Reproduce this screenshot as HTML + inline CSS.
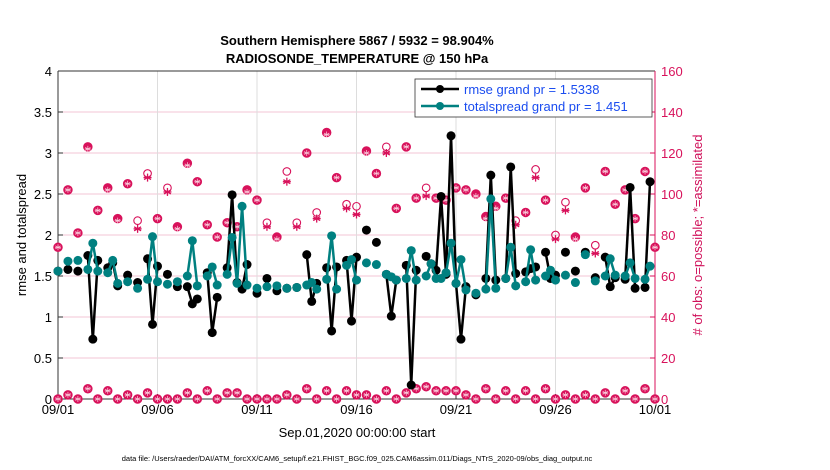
<!DOCTYPE html>
<html><head><meta charset="utf-8">
<style>
html,body{margin:0;padding:0;background:#fff;}
svg{display:block;font-family:"Liberation Sans",sans-serif;}
</style></head>
<body>
<svg id="chart" width="830" height="470" viewBox="0 0 830 470" xmlns="http://www.w3.org/2000/svg">
  <text x="357" y="45" text-anchor="middle" font-size="13" font-weight="bold">Southern Hemisphere 5867 / 5932 = 98.904%</text>
  <text x="357" y="63" text-anchor="middle" font-size="13" font-weight="bold">RADIOSONDE_TEMPERATURE @ 150 hPa</text>
  <g id="grid"></g>
  <g id="axes"></g>
  <g id="obs"></g>
  <g id="series"></g>
  <text x="357" y="437" text-anchor="middle" font-size="13">Sep.01,2020 00:00:00 start</text>
  <text transform="translate(26,235) rotate(-90)" text-anchor="middle" font-size="13">rmse and totalspread</text>
  <text transform="translate(702,235) rotate(-90)" text-anchor="middle" font-size="13" fill="#d0105a">#  of obs: o=possible; *=assimilated</text>
  <text x="357" y="461" text-anchor="middle" font-size="7.5">data file: /Users/raeder/DAI/ATM_forcXX/CAM6_setup/f.e21.FHIST_BGC.f09_025.CAM6assim.011/Diags_NTrS_2020-09/obs_diag_output.nc</text>
  <g>
    <rect x="415" y="79" width="237" height="38" fill="#fff" stroke="#333" stroke-width="0.8"/>
    <line x1="421" y1="89" x2="459" y2="89" stroke="#000" stroke-width="2.5"/>
    <circle cx="440" cy="89" r="4" fill="#000"/>
    <text x="464" y="94" font-size="13" fill="#1a4cf0">rmse grand pr = 1.5338</text>
    <line x1="421" y1="106" x2="459" y2="106" stroke="#008080" stroke-width="2.5"/>
    <circle cx="440" cy="106" r="4" fill="#008080"/>
    <text x="464" y="111" font-size="13" fill="#1a4cf0">totalspread grand pr = 1.451</text>
  </g>
</svg>
<script>
// data: 6-hourly index k (0..120) for rmse/spread
const rmseK = [0,2,4,6,7,8,10,11,12,14,16,18,19,20,22,24,26,27,28,30,31,32,34,35,36,37,38,40,42,44,46,48,50,51,52,54,55,56,58,59,60,62,64,66,67,68,70,71,72,74,75,76,77,78,79,80,81,82,84,86,87,88,90,91,92,94,95,96,98,99,100,102,104,106,108,110,111,112,114,115,116,118,119];
const rmseV = [1.56,1.58,1.56,1.75,0.73,1.69,1.60,1.66,1.38,1.51,1.42,1.71,0.91,1.62,1.52,1.37,1.37,1.16,1.22,1.54,0.81,1.24,1.60,2.49,1.42,1.34,1.64,1.29,1.47,1.32,1.35,1.36,1.76,1.19,1.41,1.60,0.83,1.61,1.69,0.95,1.73,2.06,1.91,1.52,1.01,1.45,1.63,0.17,1.57,1.74,1.65,1.57,2.47,1.52,3.21,1.41,0.73,1.37,1.27,1.47,2.73,1.45,1.47,2.83,1.53,1.55,1.59,1.61,1.79,1.47,1.51,1.79,1.56,1.79,1.48,1.73,1.37,1.48,1.46,2.58,1.35,1.36,2.65];
const spreadV = [1.56,1.68,1.69,1.58,1.90,1.56,1.54,1.69,1.41,1.43,1.35,1.46,1.98,1.43,1.40,1.43,1.50,1.93,1.38,1.50,1.61,1.39,1.52,1.97,1.41,2.35,1.39,1.35,1.37,1.38,1.35,1.36,1.39,1.42,1.34,1.46,1.99,1.34,1.63,1.70,1.45,1.66,1.64,1.52,1.49,1.45,1.47,1.81,1.45,1.50,1.65,1.47,1.47,1.54,1.90,1.41,1.70,1.33,1.29,1.34,2.44,1.35,1.47,1.85,1.38,1.43,1.82,1.45,1.50,1.57,1.45,1.51,1.42,1.76,1.44,1.50,1.71,1.51,1.50,1.66,1.47,1.46,1.62];
// 12-hourly obs counts (61 points)
const obsPossible = [74,102,81,123,92,103,88,105,87,110,88,103,84,115,106,85,79,86,84,102,97,86,79,111,86,120,91,130,108,95,94,121,110,123,93,123,98,103,98,97,103,102,100,89,94,98,87,91,112,97,80,96,79,103,75,111,95,102,88,111,74];
const obsAssim   = [74,102,81,122,92,102,87,105,83,108,88,101,83,114,106,85,79,86,84,101,97,84,78,106,84,120,88,129,108,93,90,120,110,120,93,123,98,99,98,97,103,102,99,88,93,98,85,91,108,97,78,92,78,103,71,111,95,102,88,111,74];
const obsLowPoss = [0,2,0,5,0,4,0,2,0,3,0,0,0,3,0,4,0,3,3,0,0,0,0,2,0,5,0,4,0,4,2,2,0,4,0,3,5,6,4,4,4,2,0,5,0,4,0,4,0,5,0,2,0,2,0,3,0,4,0,5,0];
const leftTicks = [0,0.5,1,1.5,2,2.5,3,3.5,4];
const leftTickLabels = ["0","0.5","1","1.5","2","2.5","3","3.5","4"];
const rightTicks = [0,20,40,60,80,100,120,140,160];
const xTickDays = [0,5,10,15,20,25,30];
const xTickLabels = ["09/01","09/06","09/11","09/16","09/21","09/26","10/01"];

const NS="http://www.w3.org/2000/svg";
const X0=58,X1=655,Y0=399,Y1=71;
const MAG='#d8125b';
const xDay=d=>X0+(X1-X0)*d/30;
const yL=v=>Y0-(Y0-Y1)*v/4;
const yR=v=>Y0-(Y0-Y1)*v/160;
function mk(tag,attrs,parent){const e=document.createElementNS(NS,tag);for(const k in attrs)e.setAttribute(k,attrs[k]);parent.appendChild(e);return e;}
const grid=document.getElementById('grid'),axes=document.getElementById('axes'),obs=document.getElementById('obs'),ser=document.getElementById('series');

rightTicks.forEach((t,i)=>{
  const l=mk('line',{x1:X0,x2:X1,y1:yR(t),y2:yR(t),stroke:'#f3c6d6','stroke-width':1},grid);
  
  
  const tk=mk('line',{x1:X1-5,x2:X1,y1:yR(t),y2:yR(t),stroke:MAG},axes);
  
  
  const tx=mk('text',{x:X1+6,y:yR(t)+5,'font-size':13,fill:MAG},axes);
  tx.textContent=String(t);
  
  
});
xTickDays.forEach((d,i)=>{
  const l=mk('line',{x1:xDay(d),x2:xDay(d),y1:Y1,y2:Y0,stroke:'#dddddd','stroke-width':1},grid);
  
  
  const tk=mk('line',{x1:xDay(d),x2:xDay(d),y1:Y0,y2:Y0-5,stroke:'#333'},axes);
  
  
  const tx=mk('text',{x:xDay(d),y:Y0+15,'font-size':13,'text-anchor':'middle'},axes);
  tx.textContent=xTickLabels[i];
  
  
});
leftTicks.forEach((t,i)=>{
  const tk=mk('line',{x1:X0,x2:X0+5,y1:yL(t),y2:yL(t),stroke:'#333'},axes);
  
  
  const tx=mk('text',{x:X0-6,y:yL(t)+5,'font-size':13,'text-anchor':'end'},axes);
  tx.textContent=leftTickLabels[i];
  
  
});
const ax1=mk('line',{x1:X0,x2:X0,y1:Y1,y2:Y0,stroke:'#333','stroke-width':1},axes);


const ax2=mk('line',{x1:X0,x2:X1,y1:Y0,y2:Y0,stroke:'#333','stroke-width':1},axes);


const ax3=mk('line',{x1:X0,x2:X1,y1:Y1,y2:Y1,stroke:'#333','stroke-width':1},axes);


const ax4=mk('line',{x1:X1,x2:X1,y1:Y1,y2:Y0,stroke:MAG,'stroke-width':1},axes);



function asterisk(cx,cy,r,parent,name,col,w){
  const g=mk('g',{stroke:col,'stroke-width':w},parent);
  
  
  for(let a=0;a<3;a++){const th=a*Math.PI/3+Math.PI/2;mk('line',{x1:cx-r*Math.cos(th),y1:cy-r*Math.sin(th),x2:cx+r*Math.cos(th),y2:cy+r*Math.sin(th)},g);}
  mk('line',{x1:cx-r,y1:cy,x2:cx+r,y2:cy},g);
}
function circ(cx,cy,parent,name,filled){
  const c=mk('circle',{cx:cx,cy:cy,r:filled?4.2:3.8,fill:filled?MAG:'none',stroke:MAG,'stroke-width':1.1},parent);
  
  
}
function obsMark(x,p,a,nm){
  if(Math.abs(p-a)<1.5){
    circ(x,yR(p),obs,nm+'-possible',true);
    asterisk(x,yR(a),3,obs,nm+'-assimilated','#fbd0de',0.7);
  } else {
    circ(x,yR(p),obs,nm+'-possible',false);
    asterisk(x,yR(a),4,obs,nm+'-assimilated',MAG,1.3);
  }
}
obsPossible.forEach((v,j)=>obsMark(xDay(j*0.5),v,obsAssim[j],'obs'));
obsLowPoss.forEach((v,j)=>obsMark(xDay(j*0.5),v,v,'obs-low'));

function drawSeries(vals,color,name){
  const g=mk('g',{},ser);
  
  
  for(let i=1;i<rmseK.length;i++){
    if(rmseK[i]-rmseK[i-1]===1){
      const l=mk('line',{x1:xDay(rmseK[i-1]/4),y1:yL(vals[i-1]),x2:xDay(rmseK[i]/4),y2:yL(vals[i]),stroke:color,'stroke-width':2.5},g);
      
      
    }
  }
  vals.forEach((v,i)=>{
    const x=xDay(rmseK[i]/4),y=yL(v);
    const c=mk('circle',{cx:x,cy:y,r:4.5,fill:color},g);
    
    
  });
}
drawSeries(rmseV,'#000','rmse-series');
drawSeries(spreadV,'#008080','totalspread-series');
</script>
</body></html>
